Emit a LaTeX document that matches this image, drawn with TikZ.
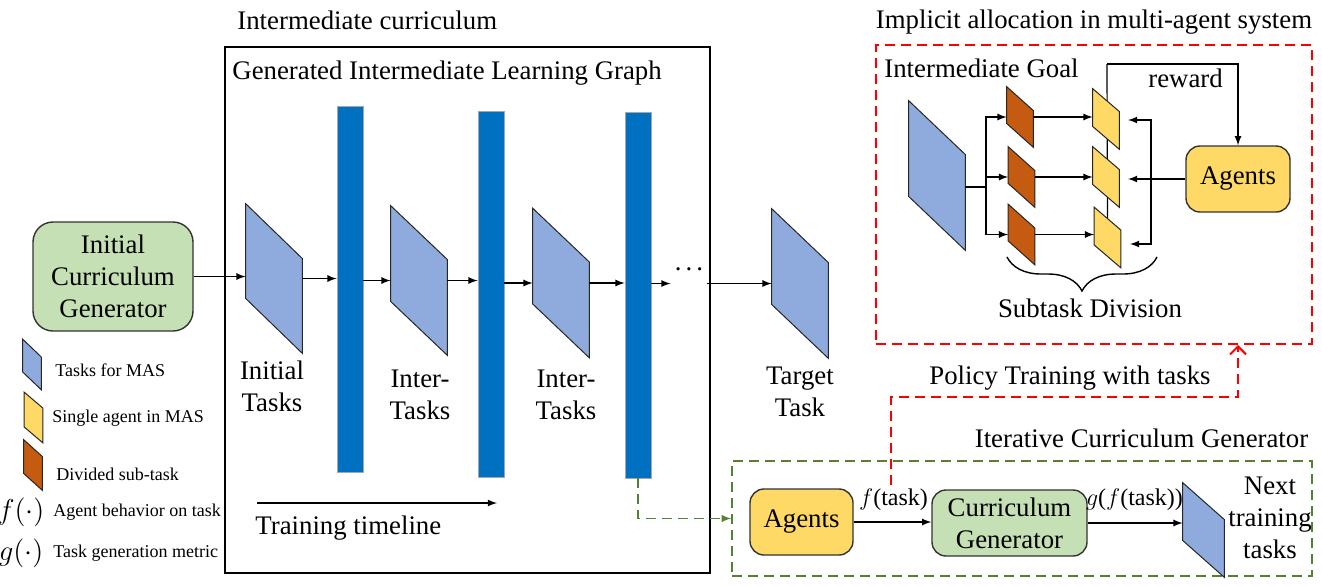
\documentclass[tikz,border=0pt]{standalone}
\usepackage{fontspec}
\setmainfont{Liberation Serif}
\newfontfamily\bigserif[Scale=1.4889]{Liberation Serif}
\usetikzlibrary{calc,arrows.meta,decorations.pathreplacing,positioning}
\definecolor{taskblue}{HTML}{8FAADC}
\definecolor{barblue}{HTML}{0070C0}
\definecolor{subred}{HTML}{C55A11}
\definecolor{agentyel}{HTML}{FFD966}
\definecolor{gengreen}{HTML}{C5E0B4}
\definecolor{dashgreen}{HTML}{548235}
% slanted box over an empty node: name, drop, fill
\newcommand{\paral}[3]{\draw[line width=0.5pt, draw=black!85, fill=#3] (#1.north west) -- ([yshift=-#2]#1.north east) -- (#1.south east) -- ([yshift=#2]#1.south west) -- cycle;}
\begin{document}
\begin{tikzpicture}[>=latex, x=0.5pt, y=-0.5pt,
    txt/.style={font=\bigserif\fontsize{9}{16}\selectfont, inner sep=0pt, align=center},
    legtxt/.style={font=\fontsize{9}{11}\selectfont, inner sep=0pt, anchor=west},
    flow/.style={->, line width=0.6pt},
    bigpara/.style={minimum width=28pt, minimum height=74.5pt, inner sep=0pt},
    subpara/.style={minimum width=13pt, minimum height=30pt, inner sep=0pt},
    legpara/.style={minimum width=9pt, minimum height=25pt, inner sep=0pt},
    stage/.style={draw=gray!70, line width=0.4pt, fill=barblue, minimum width=13pt, minimum height=183pt, inner sep=0pt},
    roundbox/.style={draw=black!80, line width=0.7pt, rounded corners=8pt, inner sep=0pt, font=\bigserif\fontsize{9}{16}\selectfont, align=center},
    reddash/.style={draw=red, line width=1pt, dash pattern=on 5pt off 3pt},
    greendash/.style={draw=dashgreen, line width=0.7pt, dash pattern=on 5pt off 3pt}]
\useasboundingbox (0,0) rectangle (1322,585);

% legend
\node[legpara] (lg1) at (32,364.5) {};
\node[legpara] (lg2) at (33.5,417.5) {};
\node[legpara] (lg3) at (33,465) {};
\paral{lg1}{9pt}{taskblue}
\paral{lg2}{8pt}{agentyel}
\paral{lg3}{8.5pt}{subred}
\node[legtxt] (lt1) at (55,370) {Tasks for MAS};
\node[legtxt] (lt2) at (52,418) {Single agent in MAS};
\node[legtxt] (lt3) at (56,474) {Divided sub-task};
\node[legtxt] (lt4) at (53,512) {Agent behavior on task};
\node[legtxt] (lt5) at (53,553) {Task generation metric};
\node[inner sep=0pt, font=\fontsize{13.4}{16}\selectfont] (lf) at (21,512) {$f(\cdot)$};
\node[inner sep=0pt, font=\fontsize{13.4}{16}\selectfont] (lg) at (21,553) {$g(\cdot)$};

% intermediate curriculum
\node[draw, line width=0.7pt, minimum width=242.5pt, minimum height=263pt] (curbox) at (467.5,310) {};
\node[txt, anchor=west] (curtitle) at (237,20) {Intermediate curriculum};
\node[txt, anchor=west] (graphtitle) at (232,73) {Generated Intermediate Learning Graph};
\node[roundbox, fill=gengreen, minimum width=80pt, minimum height=54.5pt, rounded corners=10pt] (icg) at (113,276.5) {Initial\\Curriculum\\Generator};
\node[bigpara] (p1) at (274,278.5) {};
\node[bigpara] (p2) at (419,280.5) {};
\node[bigpara] (p3) at (561,283) {};
\node[bigpara] (p4) at (800,283.5) {};
\paral{p1}{27.5pt}{taskblue}
\paral{p2}{27pt}{taskblue}
\paral{p3}{27pt}{taskblue}
\paral{p4}{27pt}{taskblue}
\node[stage] (bar1) at (350,289) {};
\node[stage] (bar2) at (491,294) {};
\node[stage] (bar3) at (638,295) {};
\node[txt, anchor=base] (dots) at (689,270) {.\kern2pt.\kern2pt.};
\draw[flow] (icg.east) -- (icg.east -| p1.west);
\draw[flow] (p1.east) -- (p1.east -| bar1.west);
\draw[flow] (bar1.east |- p2.west) -- (p2.west);
\draw[flow] (p2.east) -- (p2.east -| bar2.west);
\draw[flow] (bar2.east |- p3.west) -- (p3.west);
\draw[flow] (p3.east) -- (p3.east -| bar3.west);
\draw[flow] (bar3.east |- p4.west) -- ([xshift=-2pt]dots.west |- p4.west);
\draw[flow] ([xshift=2pt]dots.east |- p4.west) -- (p4.west);
\node[txt] (lab1) at (272,386) {Initial\\Tasks};
\node[txt] (lab2) at (420,395) {Inter-\\Tasks};
\node[txt] (lab3) at (566,395) {Inter-\\Tasks};
\node[txt] (lab4) at (800,392) {Target\\Task};
\coordinate (tla) at (257,503);
\coordinate (tlb) at (497,503);
\draw[flow] (tla) -- (tlb);
\node[txt, anchor=west] (tltxt) at (255,528) {Training timeline};

% implicit allocation
\node[reddash, minimum width=218pt, minimum height=149.5pt] (redbox) at (1094,194.5) {};
\node[txt] (redtitle) at (1094,22) {Implicit allocation in multi-agent system};
\node[txt, anchor=west] (goaltxt) at (884,68) {Intermediate Goal};
\node[bigpara] (g0) at (937,175.5) {};
\paral{g0}{27pt}{taskblue}
\node[subpara] (o1) at (1020,117) {};
\node[subpara] (o2) at (1021.5,177) {};
\node[subpara] (o3) at (1021.5,234.5) {};
\node[subpara] (y1) at (1106,119) {};
\node[subpara] (y2) at (1106,177) {};
\node[subpara] (y3) at (1107.5,237.5) {};
\node[roundbox, fill=agentyel, minimum width=52pt, minimum height=33pt, rounded corners=7pt] (agents) at (1238,179) {Agents};
\coordinate (split) at (986,187);
\coordinate (rwtop) at (1107,64);
\coordinate (fb1) at (1128,120);
\coordinate (fbx) at (1151,180);
\coordinate (fb3) at (1130,244);
\draw[line width=0.6pt] (y3.center) -- (rwtop);
\draw[flow] (rwtop) -| (agents.north);
\paral{o1}{12pt}{subred}
\paral{o2}{12pt}{subred}
\paral{o3}{12pt}{subred}
\paral{y1}{11.5pt}{agentyel}
\paral{y2}{11.5pt}{agentyel}
\paral{y3}{11.5pt}{agentyel}
\draw[line width=0.6pt] (g0.east |- split) -- (split);
\draw[flow] (split) |- (o1.west);
\draw[flow] (split) |- (o2.west);
\draw[flow] (split) |- (o3.west);
\draw[flow] (o1.east) -- (o1.east -| y1.west);
\draw[flow] (o2.east) -- (o2.east -| y2.west);
\draw[flow] (o3.east) -- (o3.east -| y3.west);
\draw[flow] (agents.west) -- (agents.west -| fb1);
\draw[line width=0.6pt, <->] (fb1) -| (fbx) |- (fb3);
\node[txt, anchor=west] (rwtxt) at (1148,78) {reward};
\coordinate (brl) at (1007,257);
\coordinate (brr) at (1157,257);
\draw[line width=0.7pt, decorate, decoration={brace, mirror, amplitude=17pt}] (brl) -- (brr);
\node[txt] (subtxt) at (1090,308) {Subtask Division};

% iterative curriculum generator
\node[greendash, minimum width=290pt, minimum height=57.5pt] (gbox) at (1022,518.5) {};
\node[txt] (gtitle) at (1141.5,438) {Iterative Curriculum Generator};
\node[roundbox, fill=agentyel, minimum width=51.5pt, minimum height=33pt, rounded corners=7pt] (agents2) at (801.5,522) {Agents};
\node[roundbox, fill=gengreen, minimum width=77.5pt, minimum height=33pt, rounded corners=7pt] (cg) at (1009.5,523) {Curriculum\\Generator};
\node[minimum width=20.5pt, minimum height=47pt, inner sep=0pt] (nx) at (1203.5,530) {};
\paral{nx}{18.5pt}{taskblue}
\draw[flow] (agents2.east) -- (agents2.east -| cg.west);
\draw[flow] (cg.east) -- (cg.east -| nx.west);
\node[inner sep=0pt, font=\fontsize{12}{14}\selectfont] (ftask) at (893.5,500) {$f$(task)};
\node[inner sep=0pt, font=\fontsize{12}{14}\selectfont] (gtask) at (1134.5,500) {$g$($f$(task))};
\node[txt] (nxtxt) at (1270,518) {Next\\training\\tasks};

% links between parts
\coordinate (ptstart) at (891,485);
\coordinate (ptcorner) at (1238,397);
\draw[reddash, -{Straight Barb[length=4pt,width=8pt]}] (ptstart) |- (ptcorner) -- (agents |- redbox.south);
\node[txt] (pttxt) at (1070,378) {Policy Training with tasks};
\draw[greendash, ->] (bar3.south) |- (gbox.west);
\end{tikzpicture}
\end{document}
